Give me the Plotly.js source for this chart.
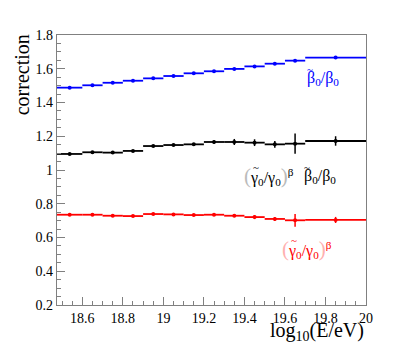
<!DOCTYPE html>
<html>
<head>
<meta charset="utf-8">
<script src="https://cdn.plot.ly/plotly-3.0.1.min.js"></script>
<style>html,body{margin:0;padding:0;background:#fff;}#chart{width:407px;height:354px;}</style>
</head>
<body>
<div id="chart"></div>
<script>
// Bin edges in log10(E/eV)
const binEdges = [18.475, 18.6, 18.7, 18.8, 18.9, 19.0, 19.1, 19.2, 19.3, 19.4, 19.5, 19.6, 19.7, 20.0];

// beta~0/beta0 (blue)
const betaVals = [1.488, 1.502, 1.517, 1.529, 1.543, 1.557, 1.573, 1.585, 1.599, 1.614, 1.630, 1.648, 1.666];
const betaErr  = [0.004, 0.004, 0.004, 0.004, 0.004, 0.004, 0.004, 0.004, 0.004, 0.004, 0.004, 0.005, 0.006];

// (gamma~0/gamma0)^beta * beta~0/beta0 (black)
const prodVals = [1.095, 1.105, 1.103, 1.113, 1.142, 1.148, 1.152, 1.166, 1.166, 1.162, 1.152, 1.156, 1.172];
const prodErr  = [0.005, 0.005, 0.005, 0.005, 0.006, 0.006, 0.007, 0.010, 0.018, 0.020, 0.020, 0.060, 0.028];

// (gamma~0/gamma0)^beta (red)
const gamVals = [0.735, 0.735, 0.729, 0.727, 0.739, 0.737, 0.733, 0.735, 0.729, 0.721, 0.710, 0.702, 0.704];
const gamErr  = [0.005, 0.005, 0.005, 0.005, 0.005, 0.005, 0.005, 0.006, 0.008, 0.012, 0.012, 0.038, 0.018];

const centers = [], halfW = [];
for (let i = 0; i < binEdges.length - 1; i++) {
  centers.push((binEdges[i] + binEdges[i + 1]) / 2);
  halfW.push((binEdges[i + 1] - binEdges[i]) / 2);
}

function histTrace(vals, errs, color) {
  return {
    type: 'scatter', mode: 'markers', x: centers, y: vals,
    marker: {color: color, size: 4, symbol: 'circle'},
    error_x: {type: 'data', array: halfW, visible: true, color: color, thickness: 1.8, width: 0},
    error_y: {type: 'data', array: errs, visible: true, color: color, thickness: 1.5, width: 0},
    hoverinfo: 'skip', showlegend: false
  };
}

const data = [
  histTrace(betaVals, betaErr, '#0000ff'),
  histTrace(prodVals, prodErr, '#000000'),
  histTrace(gamVals, gamErr, '#ff0000')
];

const serif = 'Liberation Serif, Times New Roman, serif';
const frame = '#808080';

function label(x, y, text, color) {
  return {xref: 'x', yref: 'y', x: x, y: y, xanchor: 'left', yanchor: 'middle',
          text: text, showarrow: false, font: {family: serif, size: 16, color: color}};
}
function tilde(x, y, dx, color) {
  return {xref: 'x', yref: 'y', x: x, y: y, xanchor: 'center', yanchor: 'middle',
          xshift: dx, yshift: 9, text: '~', showarrow: false,
          font: {family: serif, size: 11, color: color}};
}
const betaTxt = 'β<sub>0</sub>/β<sub>0</sub>';
function gamTxt(pc) {
  return '<span style="color:' + pc + ';font-size:21px">(</span>γ<sub>0</sub>/γ<sub>0</sub><span style="color:' + pc + ';font-size:21px">)</span><sup>β</sup>';
}

const layout = {
  width: 407, height: 354,
  margin: {l: 57, r: 41, t: 35, b: 49},
  paper_bgcolor: '#ffffff', plot_bgcolor: '#ffffff',
  font: {family: serif, size: 14, color: '#000'},
  xaxis: {
    range: [18.475, 20], dtick: 0.2, tick0: 0,
    ticks: 'inside', ticklen: 8, tickcolor: frame, tickwidth: 1,
    minor: {dtick: 0.05, ticks: 'inside', ticklen: 4, tickcolor: frame, tickwidth: 1, showgrid: false},
    showline: true, linecolor: frame, linewidth: 1.2, mirror: true,
    showgrid: false, zeroline: false,
    tickfont: {family: serif, size: 14, color: '#000'}
  },
  yaxis: {
    range: [0.2, 1.8], dtick: 0.2, tick0: 0,
    ticks: 'inside', ticklen: 8, tickcolor: frame, tickwidth: 1,
    minor: {dtick: 0.05, ticks: 'inside', ticklen: 4, tickcolor: frame, tickwidth: 1, showgrid: false},
    showline: true, linecolor: frame, linewidth: 1.2, mirror: true,
    showgrid: false, zeroline: false,
    tickfont: {family: serif, size: 14, color: '#000'}
  },
  annotations: [
    {xref: 'paper', yref: 'paper', x: 1.0, y: -0.045, xanchor: 'right', yanchor: 'top',
     text: 'log<sub>10</sub>(E/eV)', showarrow: false, font: {family: serif, size: 20, color: '#000'}},
    {xref: 'paper', yref: 'paper', x: -0.115, y: 1.01, xanchor: 'center', yanchor: 'top', textangle: -90,
     text: 'correction', showarrow: false, font: {family: serif, size: 20, color: '#000'}},
    label(19.699, 1.545, betaTxt, '#0000ff'),
    tilde(19.699, 1.545, 4.5, '#0000ff'),
    label(19.685, 0.962, betaTxt, '#000000'),
    tilde(19.685, 0.962, 4.5, '#000000'),
    label(19.39, 0.962, gamTxt('#bbbbbb'), '#000000'),
    tilde(19.39, 0.962, 14, '#000000'),
    label(19.575, 0.530, gamTxt('#ffb0b0'), '#ff0000'),
    tilde(19.575, 0.530, 14, '#ff0000')
  ]
};

Plotly.newPlot('chart', data, layout, {staticPlot: true, displayModeBar: false});
</script>
</body>
</html>
